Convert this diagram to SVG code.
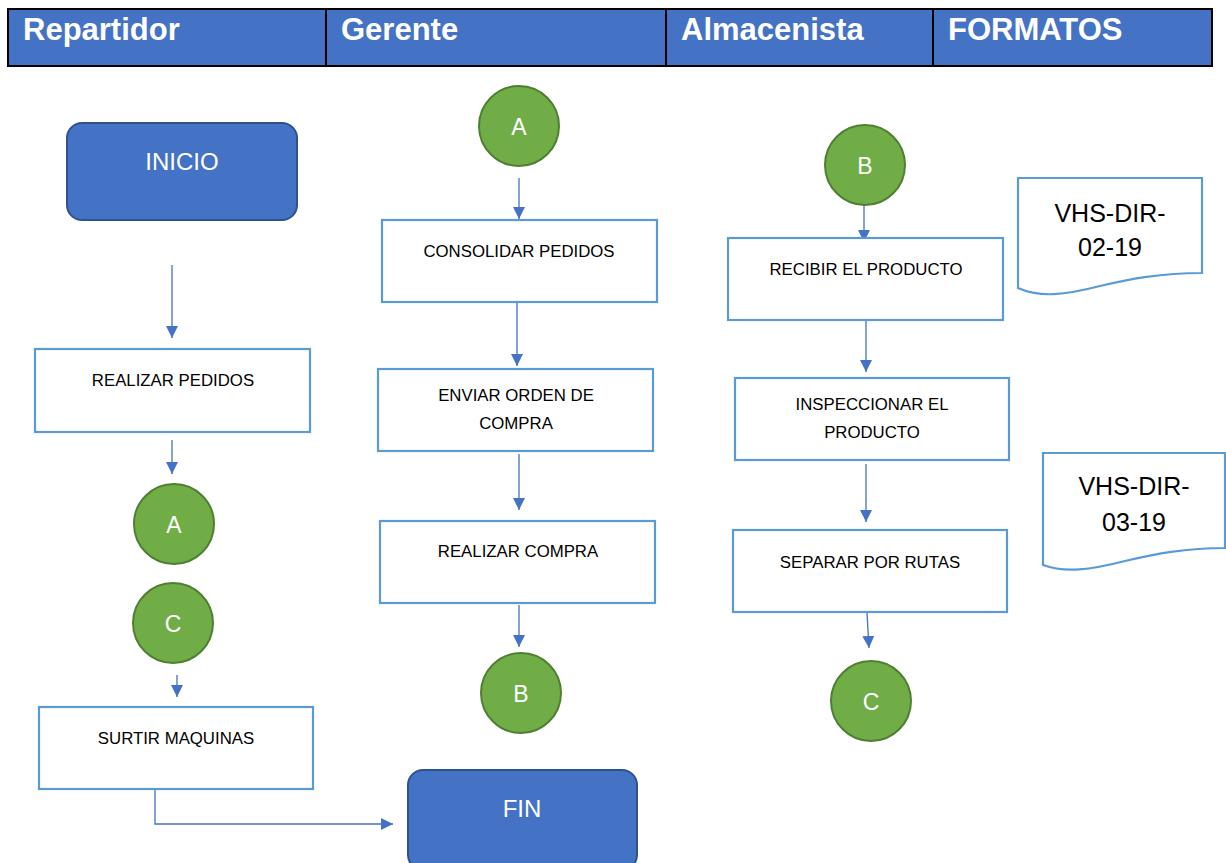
<svg xmlns="http://www.w3.org/2000/svg" width="1226" height="863" viewBox="0 0 1226 863">
<style>
.hdr{fill:#4472C4;stroke:#000;stroke-width:2}
.ht{font-family:"Liberation Sans",Arial,sans-serif;font-weight:bold;font-size:31px;fill:#fff}
.term{fill:#4472C4;stroke:#2F528F;stroke-width:2}
.tt{font-family:"Liberation Sans",Arial,sans-serif;font-size:24px;fill:#fff;text-anchor:middle;dominant-baseline:central}
.box{fill:#fff;stroke:#5B9BD5;stroke-width:2.2}
.bt{font-family:"Liberation Sans",Arial,sans-serif;font-size:16.8px;fill:#000;text-anchor:middle;dominant-baseline:central}
.con{fill:#70AD47;stroke:#507E32;stroke-width:2}
.ct{font-family:"Liberation Sans",Arial,sans-serif;font-size:23px;fill:#fff;text-anchor:middle;dominant-baseline:central}
.doc{fill:#fff;stroke:#5B9BD5;stroke-width:2.2}
.dt{font-family:"Liberation Sans",Arial,sans-serif;font-size:25px;fill:#000;text-anchor:middle;dominant-baseline:central}
.ln{fill:none;stroke:#4472C4;stroke-width:1.3}
</style>
<defs>
<marker id="ah" viewBox="0 0 10 10" refX="10" refY="5" markerWidth="12" markerHeight="12" markerUnits="userSpaceOnUse" orient="auto">
<path d="M0,0 L10,5 L0,10 Z" fill="#4472C4"/>
</marker>
</defs>
<rect width="1226" height="863" fill="#fff"/>
<g id="header">
<rect class="hdr" x="8" y="9" width="318" height="57"/>
<rect class="hdr" x="326" y="9" width="340" height="57"/>
<rect class="hdr" x="666" y="9" width="267" height="57"/>
<rect class="hdr" x="933" y="9" width="279" height="57"/>
<text class="ht" x="23" y="40">Repartidor</text>
<text class="ht" x="341" y="40">Gerente</text>
<text class="ht" x="681" y="40">Almacenista</text>
<text class="ht" x="948" y="40">FORMATOS</text>
</g>
<g id="connectors">
<line class="ln" x1="172" y1="265" x2="172" y2="338" marker-end="url(#ah)"/>
<line class="ln" x1="172" y1="440" x2="172" y2="474" marker-end="url(#ah)"/>
<line class="ln" x1="177" y1="675" x2="177" y2="697" marker-end="url(#ah)"/>
<polyline class="ln" points="159,789 155,789 155,824 393,824" marker-end="url(#ah)"/>
<line class="ln" x1="519" y1="178" x2="519" y2="219" marker-end="url(#ah)"/>
<line class="ln" x1="517" y1="302" x2="517" y2="366" marker-end="url(#ah)"/>
<line class="ln" x1="519" y1="454" x2="519" y2="510" marker-end="url(#ah)"/>
<line class="ln" x1="519" y1="605" x2="519" y2="647" marker-end="url(#ah)"/>
<line class="ln" x1="864" y1="200" x2="864" y2="242" marker-end="url(#ah)"/>
<line class="ln" x1="866" y1="320" x2="866" y2="372" marker-end="url(#ah)"/>
<line class="ln" x1="866" y1="464" x2="866" y2="522" marker-end="url(#ah)"/>
<line class="ln" x1="867" y1="613" x2="869" y2="648" marker-end="url(#ah)"/>
</g>
<g id="inicio">
<rect class="term" x="67" y="123" width="230" height="97" rx="15"/>
<text class="tt" x="182" y="161">INICIO</text>
</g>
<g id="realizar-pedidos">
<rect class="box" x="35" y="349" width="275" height="83"/>
<text class="bt" x="173" y="380">REALIZAR PEDIDOS</text>
</g>
<g id="conA-rep">
<circle class="con" cx="174" cy="524" r="40"/>
<text class="ct" x="174" y="525">A</text>
</g>
<g id="conC-rep">
<circle class="con" cx="173" cy="623" r="40"/>
<text class="ct" x="173" y="624">C</text>
</g>
<g id="surtir">
<rect class="box" x="39" y="707" width="274" height="82"/>
<text class="bt" x="176" y="738">SURTIR MAQUINAS</text>
</g>
<g id="fin">
<rect class="term" x="408" y="770" width="229" height="100" rx="15"/>
<text class="tt" x="522" y="808">FIN</text>
</g>
<g id="conA-ger">
<circle class="con" cx="519" cy="126" r="40"/>
<text class="ct" x="519" y="127">A</text>
</g>
<g id="consolidar">
<rect class="box" x="382" y="220" width="275" height="82"/>
<text class="bt" x="519" y="251">CONSOLIDAR PEDIDOS</text>
</g>
<g id="enviar">
<rect class="box" x="378" y="369" width="275" height="82"/>
<text class="bt" x="516" y="395">ENVIAR ORDEN DE</text>
<text class="bt" x="516" y="423">COMPRA</text>
</g>
<g id="realizar-compra">
<rect class="box" x="380" y="521" width="275" height="82"/>
<text class="bt" x="518" y="551">REALIZAR COMPRA</text>
</g>
<g id="conB-ger">
<circle class="con" cx="521" cy="693" r="40"/>
<text class="ct" x="521" y="694">B</text>
</g>
<g id="conB-alm">
<circle class="con" cx="865" cy="165" r="40"/>
<text class="ct" x="865" y="166">B</text>
</g>
<g id="recibir">
<rect class="box" x="728" y="238" width="275" height="82"/>
<text class="bt" x="866" y="269">RECIBIR EL PRODUCTO</text>
</g>
<g id="inspeccionar">
<rect class="box" x="735" y="378" width="274" height="82"/>
<text class="bt" x="872" y="404">INSPECCIONAR EL</text>
<text class="bt" x="872" y="432">PRODUCTO</text>
</g>
<g id="separar">
<rect class="box" x="733" y="530" width="274" height="82"/>
<text class="bt" x="870" y="562">SEPARAR POR RUTAS</text>
</g>
<g id="conC-alm">
<circle class="con" cx="871" cy="701" r="40"/>
<text class="ct" x="871" y="702">C</text>
</g>
<g id="doc1">
<path class="doc" d="M1018,178 H1202 V273 C1160,273 1130,279 1100,286 C1065,295 1040,298 1018,288 Z"/>
<text class="dt" x="1110" y="213">VHS-DIR-</text>
<text class="dt" x="1110" y="247">02-19</text>
</g>
<g id="doc2">
<path class="doc" d="M1043,453 H1225 V548 C1185,548 1155,554 1125,561 C1090,570 1065,573 1043,565 Z"/>
<text class="dt" x="1134" y="486">VHS-DIR-</text>
<text class="dt" x="1134" y="522">03-19</text>
</g>
</svg>
